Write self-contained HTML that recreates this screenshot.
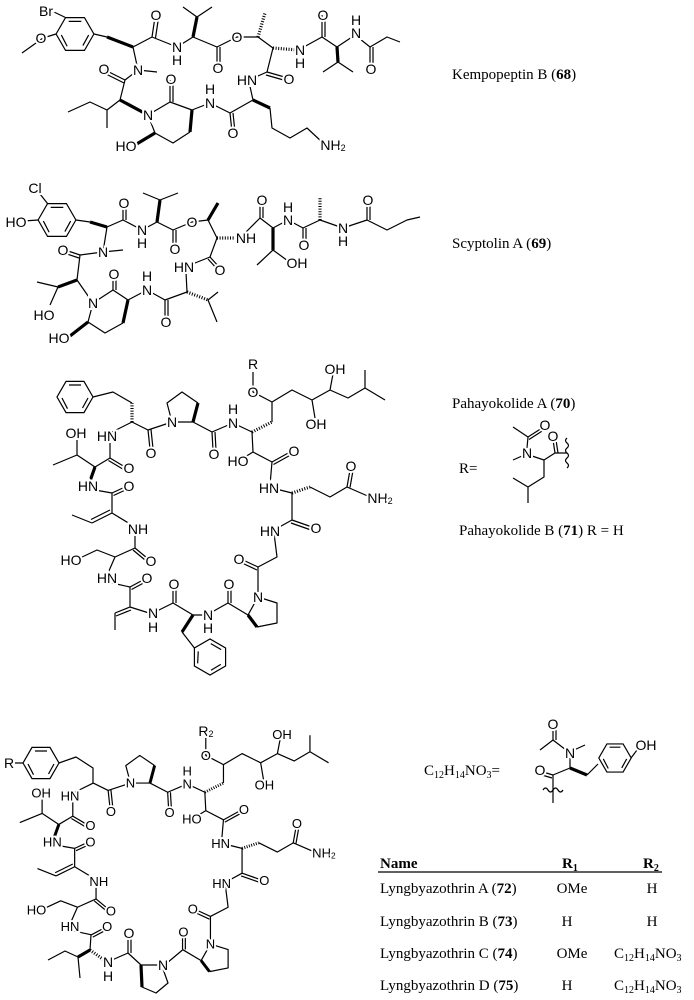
<!DOCTYPE html>
<html><head><meta charset="utf-8"><style>
html,body{margin:0;padding:0;background:#fff}
svg{display:block}
.b{stroke:#000;stroke-width:1.2;fill:none;stroke-linejoin:round}
.w{stroke:#000;stroke-width:3.2;fill:none}
.h{stroke:#000;stroke-width:3.2;fill:none;stroke-dasharray:1 1.6}
text.a{font-family:"Liberation Sans",sans-serif;font-size:14px;text-anchor:middle;dominant-baseline:central;stroke:#fff;stroke-width:4;paint-order:stroke;fill:#000}
text.t{font-family:"Liberation Serif",serif;font-size:15px;fill:#000}
</style></head><body>
<svg width="694" height="1000" viewBox="0 0 694 1000" xmlns="http://www.w3.org/2000/svg">
<defs>
<g id="bz"><polygon points="18,0 9,15.6 -9,15.6 -18,0 -9,-15.6 9,-15.6" style="stroke:#000;stroke-width:1.2;fill:none" vector-effect="non-scaling-stroke"/>
<path d="M13,1 L7.5,11 M-7.5,11.7 L-13,1 M-6,-12 L6,-12" style="stroke:#000;stroke-width:1.2;fill:none" vector-effect="non-scaling-stroke"/></g>
</defs>

<!-- ===== Kempopeptin B ===== -->
<g>
<use href="#bz" transform="translate(75,34) scale(1.05)"/>
<path class="b" d="M56,34 L43,38 L22,53 M65.5,17.5 L54,12 M94,34 L107,37"/>
<line class="w" x1="107" y1="37" x2="133" y2="47"/>
<path class="b" d="M133,47 L152,37 L177,47 L193,37 L217,47 L237,37 L258,37 L273,48 L267,72 L249,80"/>
<line class="h" x1="258" y1="37" x2="265" y2="13"/>
<line class="h" x1="273" y1="48" x2="298" y2="50"/>
<path class="b" d="M302,48 L322,37 L337,47 L355,35 L370,47 L387,37 L400,42"/>
<line class="w" x1="337" y1="47" x2="338" y2="62"/>
<path class="b" d="M323,72 L338,62 L353,72 M183,7 L197,17 L212,7"/>
<line class="w" x1="193" y1="37" x2="197" y2="17"/>
<path class="b" d="M133,47 L138,70 L157,72 M138,70 L125,80 L120,100 M148,115 L170,102 L192,110 M190,132 L173,143 L155,133 L148,115 M120,100 L107,110 L90,102 L68,112 M107,110 L107,128 M192,110 L210,103 L230,113 L253,100 L249,82 M270,108 L272,128 L290,138 L307,128 L322,142"/>
<line class="w" x1="120" y1="100" x2="148" y2="115"/>
<line class="w" x1="192" y1="110" x2="190" y2="132"/>
<line class="w" x1="155" y1="133" x2="135" y2="145"/>
<line class="w" x1="253" y1="100" x2="270" y2="108"/>
<path class="b" d="M152,37 L155,17 M155.5,38 L158.5,18 M217,47 L217,67 M220,47 L220,67 M267,72 L288,78 M266,75 L287,81 M322,37 L322,15 M325,37 L325,15 M370,47 L370,68 M373,47 L373,68 M125,80 L105,70 M124,83 L104,73 M170,102 L170,80 M173,102 L173,80 M230,113 L232,132 M233,113 L235,132"/>
<text class="a" x="46" y="11">Br</text><text class="a" x="41" y="38">O</text>
<text class="a" x="156" y="15">O</text><text class="a" x="177" y="47">N</text><text class="a" x="177" y="60">H</text>
<text class="a" x="218" y="68">O</text><text class="a" x="237" y="37">O</text>
<text class="a" x="300" y="50">N</text><text class="a" x="300" y="63">H</text>
<text class="a" x="289" y="79">O</text><text class="a" x="247" y="80">HN</text>
<text class="a" x="323" y="15">O</text><text class="a" x="356" y="33">N</text><text class="a" x="356" y="20">H</text>
<text class="a" x="371" y="69">O</text>
<text class="a" x="138" y="70">N</text><text class="a" x="104" y="69">O</text>
<text class="a" x="148" y="115">N</text><text class="a" x="171" y="79">O</text>
<text class="a" x="126" y="146">HO</text>
<text class="a" x="210" y="103">N</text><text class="a" x="210" y="89">H</text>
<text class="a" x="233" y="133">O</text>
<text class="a" x="333" y="145">NH<tspan font-size="9" dy="3">2</tspan></text>
</g>
<text class="t" x="452" y="79">Kempopeptin B (<tspan font-weight="bold">68</tspan>)</text>

<!-- ===== Scyptolin A ===== -->
<g>
<use href="#bz" transform="translate(57,220) scale(1.05)"/>
<path class="b" d="M38,220 L24,221 M47.5,203.5 L40,194 M76,220 L90,222"/>
<line class="w" x1="90" y1="222" x2="107" y2="227"/>
<path class="b" d="M107,227 L123,220 L142,230 L157,222 L173,230 L192,222 L208,220 L217,238"/>
<line class="w" x1="208" y1="220" x2="218" y2="203"/>
<line class="h" x1="217" y1="238" x2="236" y2="238"/>
<path class="b" d="M246,232 L260,218 L273,228 L288,220 L303,228 L320,220 L343,228 L367,220 L387,230 L407,220 L420,217"/>
<line class="h" x1="320" y1="220" x2="320" y2="197"/>
<line class="w" x1="273" y1="228" x2="273" y2="250"/>
<path class="b" d="M257,265 L273,250 L288,261"/>
<line class="w" x1="157" y1="222" x2="160" y2="200"/>
<path class="b" d="M143,193 L160,200 L178,193 M217,238 L210,257 L190,265 M186,272 L187,292"/>
<line class="h" x1="187" y1="292" x2="208" y2="300"/>
<path class="b" d="M218,292 L208,300 L217,322 M187,292 L165,300 L147,290 L128,300 L113,290 L93,303 L88,322 L105,333 L123,323"/>
<line class="w" x1="128" y1="300" x2="123" y2="323"/>
<line class="w" x1="88" y1="322" x2="70" y2="336"/>
<path class="b" d="M107,227 L103,252 L123,250 M103,252 L80,255 L77,280 L93,303"/>
<line class="w" x1="77" y1="280" x2="58" y2="287"/>
<path class="b" d="M37,282 L58,287 L50,305"/>
<path class="b" d="M260,218 L260,202 M263,218 L263,202 M303,228 L303,243 M306,228 L306,243 M367,220 L367,202 M370,220 L370,202 M123,220 L123,205 M126,220 L126,205 M173,230 L173,247 M176,230 L176,247 M210,257 L220,268 M208,259 L218,270 M165,300 L165,320 M168,300 L168,320 M113,290 L113,276 M116,290 L116,276 M80,255 L65,250 M79,258 L64,253"/>
<text class="a" x="35" y="188">Cl</text><text class="a" x="16" y="222">HO</text>
<text class="a" x="124" y="203">O</text><text class="a" x="142" y="230">N</text><text class="a" x="142" y="243">H</text>
<text class="a" x="175" y="249">O</text><text class="a" x="192" y="222">O</text>
<text class="a" x="246" y="238">NH</text><text class="a" x="262" y="200">O</text>
<text class="a" x="297" y="263">OH</text><text class="a" x="288" y="220">N</text><text class="a" x="288" y="207">H</text>
<text class="a" x="304" y="245">O</text><text class="a" x="343" y="228">N</text><text class="a" x="343" y="241">H</text>
<text class="a" x="368" y="200">O</text>
<text class="a" x="220" y="270">O</text><text class="a" x="184" y="267">HN</text>
<text class="a" x="166" y="322">O</text><text class="a" x="147" y="290">N</text><text class="a" x="147" y="276">H</text>
<text class="a" x="114" y="274">O</text><text class="a" x="93" y="303">N</text>
<text class="a" x="59" y="338">HO</text>
<text class="a" x="103" y="252">N</text><text class="a" x="63" y="250">O</text>
<text class="a" x="44" y="315">HO</text>
</g>
<text class="t" x="452" y="248">Scyptolin A (<tspan font-weight="bold">69</tspan>)</text>

<!-- ===== Pahayokolide common core ===== -->
<defs>
<g id="pc">
<path class="b" vector-effect="non-scaling-stroke" d="M132,422 L148,430 L172,422 L167,403 L182,392 L198,403 M172,422 L193,422 L212,432 L233,423 L252,432"/>
<line class="w" x1="193" y1="422" x2="198" y2="403"/>
<line class="h" x1="252" y1="432" x2="272" y2="422"/>
<path class="b" vector-effect="non-scaling-stroke" d="M272,422 L272,402 L253,392 L253,372 M272,402 L292,390 L312,400 L315,418 M312,400 L330,390 L333,374 M330,390 L348,398 L365,388 L365,370 M365,388 L385,400 M252,432 L253,452 L240,460 M253,452 L272,462 L270,485 M272,488 L292,493"/>
<line class="h" x1="292" y1="493" x2="310" y2="487"/>
<path class="b" vector-effect="non-scaling-stroke" d="M310,487 L330,497 L347,487 L370,497 M292,493 L292,520 L274,530 M274,533 L277,557 L258,567 L258,592 M258,597 L277,603 L277,623 L257,627 M258,597 L248,615 L228,603"/>
<line class="w" x1="248" y1="615" x2="257" y2="627"/>
<path class="b" vector-effect="non-scaling-stroke" d="M132,422 L112,432 M110,440 L110,458 L95,467 L77,455 L53,465 M77,455 L77,440"/>
<line class="w" x1="95" y1="467" x2="90" y2="481"/>
<path class="b" vector-effect="non-scaling-stroke" d="M95,490 L112,493 L112,513 L135,527 M92,523 L72,515 M135,533 L135,548 L115,557 L97,550 L80,558 M115,557 L108,573 M112,583 L130,587"/>
<path class="b" vector-effect="non-scaling-stroke" d="M148,430 L150,449 M151,429.5 L153,448.5 M212,432 L213,450 M215,432 L216,450 M272,462 L290,452 M273.5,464.5 L291.5,454.5 M347,487 L350,470 M350,487.5 L353,470.5 M292,520 L312,527 M291,523 L311,530 M258,567 L243,560 M257,570 L242,563 M228,603 L228,587 M231,603 L231,587 M110,458 L125,467 M108.5,460.5 L123.5,469.5 M112,493 L125,487 M113.5,495.5 L126.5,489.5 M112,513 L92,523 M110,510 L91,519.5 M135,548 L147,558 M133,550 L145,560 M130,587 L143,580 M131.5,589.5 L144.5,582.5"/>
<text class="a" x="172" y="422">N</text><text class="a" x="151" y="453">O</text><text class="a" x="214" y="454">O</text>
<text class="a" x="233" y="423">N</text><text class="a" x="233" y="409">H</text>
<text class="a" x="253" y="392">O</text><text class="a" x="316" y="424">OH</text><text class="a" x="335" y="369">OH</text>
<text class="a" x="238" y="461">HO</text><text class="a" x="294" y="451">O</text><text class="a" x="269" y="488">HN</text>
<text class="a" x="351" y="466">O</text><text class="a" x="380" y="498">NH<tspan font-size="9" dy="3">2</tspan></text>
<text class="a" x="316" y="528">O</text><text class="a" x="270" y="531">HN</text>
<text class="a" x="239" y="559">O</text><text class="a" x="258" y="597">N</text><text class="a" x="229" y="584">O</text>
<text class="a" x="107" y="436">HN</text><text class="a" x="76" y="433">OH</text><text class="a" x="129" y="468">O</text>
<text class="a" x="88" y="486">HN</text><text class="a" x="129" y="486">O</text>
<text class="a" x="138" y="529">NH</text><text class="a" x="151" y="561">O</text><text class="a" x="71" y="560">HO</text>
<text class="a" x="107" y="578">HN</text><text class="a" x="147" y="578">O</text>
</g>
</defs>

<!-- Pahayokolide -->
<use href="#pc"/>
<g>
<text class="a" x="253" y="364">R</text>
<line class="h" x1="132" y1="422" x2="132" y2="403"/>
<path class="b" d="M132,403 L113,392 L93,397"/>
<use href="#bz" transform="translate(75,397)"/>
<path class="b" d="M130,587 L130,607 L149,613 M115,613 L115,630 M157,611 L173,603 L193,615 L204,615 M212,612 L228,603 M182,632 L194.4,648"/>
<path class="b" d="M130,607 L115,613 M131,610 L116,616 M173,603 L173,587 M176,603 L176,587"/>
<line class="w" x1="193" y1="615" x2="182" y2="632"/>
<use href="#bz" transform="translate(210,657) rotate(30)"/>
<text class="a" x="153" y="613">N</text><text class="a" x="153" y="627">H</text>
<text class="a" x="174" y="584">O</text>
<text class="a" x="208" y="615">N</text><text class="a" x="208" y="628">H</text>
</g>
<text class="t" x="452" y="408">Pahayokolide A (<tspan font-weight="bold">70</tspan>)</text>
<text class="t" x="459" y="473">R=</text>
<g>
<path class="b" d="M513,427 L528,437 L527,448 M528,437 L542,428 M529,439.5 L543,430.5 M513,460 L522,456 M532,456 L544,460 L555,453 L567,453 M555,453 L553,440 M558,453 L556,440 M544,460 L544,477 L528,487 L513,478 M528,487 L528,503"/>
<path class="b" d="M567,438 q-3,2.5 0,5 t0,5 t0,5 t0,5 t0,5 t0,5"/>
<text class="a" x="545" y="425">O</text><text class="a" x="527" y="453">N</text><text class="a" x="553" y="436">O</text>
</g>
<text class="t" x="459" y="535">Pahayokolide B (<tspan font-weight="bold">71</tspan>) R = H</text>

<!-- ===== Lyngbyazothrin ===== -->
<use href="#pc" transform="matrix(0.93,0,0,0.92,-29.5,394.8)"/>
<g>
<text class="a" x="206" y="731">R<tspan font-size="9" dy="3">2</tspan></text>
<path class="b" d="M93,783 L93,768 L76,757 L59,763 M23,763 L15,763"/>
<use href="#bz" transform="translate(41,763)"/>
<text class="a" x="9" y="763">R</text>
<path class="b" d="M91,935 L90,950 M78,957 L65,951 L48,960 M78,957 L80,978 M112,960 L128,953 L141,965 L160,965 M141,965 L142,987 L156,993 L168,983 L163,969 M167,963 L182.5,950"/>
<line class="w" x1="90" y1="950" x2="78" y2="957"/>
<line class="h" x1="90" y1="950" x2="104" y2="960"/>
<line class="w" x1="141" y1="965" x2="142" y2="987"/>
<path class="b" d="M128,953 L128,937 M131,953 L131,937"/>
<text class="a" x="108" y="962">N</text><text class="a" x="108" y="976">H</text>
<text class="a" x="129" y="933">O</text><text class="a" x="163" y="965">N</text>
</g>

<!-- C12H14NO3 fragment -->
<text class="t" x="424" y="775">C<tspan font-size="10" dy="3">12</tspan><tspan dy="-3">H</tspan><tspan font-size="10" dy="3">14</tspan><tspan dy="-3">NO</tspan><tspan font-size="10" dy="3">3</tspan><tspan dy="-3">=</tspan></text>
<g>
<path class="b" d="M540,750 L553,740 L566,750 M574,750 L585,745 M553,740 L553,728 M556,740 L556,728 M570,758 L570,768 L553,775 L553,803 M553,775 L543,772 M552,778 L542,775 M587,775 L598,764 M631,758 L637,750"/>
<path class="b" d="M543,790 q2.5,-4 5,0 t5,0 t5,0 t5,0"/>
<line class="w" x1="570" y1="768" x2="587" y2="775"/>
<use href="#bz" transform="translate(615,758) scale(0.9)"/>
<text class="a" x="553" y="724">O</text><text class="a" x="570" y="753">N</text><text class="a" x="540" y="770">O</text>
<text class="a" x="646" y="745">OH</text>
</g>

<!-- Table -->
<g>
<text class="t" x="380" y="868" font-weight="bold">Name</text>
<text class="t" x="562" y="868" font-weight="bold">R<tspan font-size="10" dy="3">1</tspan></text>
<text class="t" x="643" y="868" font-weight="bold">R<tspan font-size="10" dy="3">2</tspan></text>
<line x1="378" y1="872" x2="662" y2="872" stroke="#000" stroke-width="1.3"/>
<text class="t" x="380" y="893">Lyngbyazothrin A (<tspan font-weight="bold">72</tspan>)</text>
<text class="t" x="572" y="893" text-anchor="middle">OMe</text><text class="t" x="652" y="893" text-anchor="middle">H</text>
<text class="t" x="380" y="926">Lyngbyazothrin B (<tspan font-weight="bold">73</tspan>)</text>
<text class="t" x="567" y="926" text-anchor="middle">H</text><text class="t" x="652" y="926" text-anchor="middle">H</text>
<text class="t" x="380" y="958">Lyngbyazothrin C (<tspan font-weight="bold">74</tspan>)</text>
<text class="t" x="572" y="958" text-anchor="middle">OMe</text>
<text class="t" x="614" y="958">C<tspan font-size="10" dy="3">12</tspan><tspan dy="-3">H</tspan><tspan font-size="10" dy="3">14</tspan><tspan dy="-3">NO</tspan><tspan font-size="10" dy="3">3</tspan></text>
<text class="t" x="380" y="990">Lyngbyazothrin D (<tspan font-weight="bold">75</tspan>)</text>
<text class="t" x="567" y="990" text-anchor="middle">H</text>
<text class="t" x="614" y="990">C<tspan font-size="10" dy="3">12</tspan><tspan dy="-3">H</tspan><tspan font-size="10" dy="3">14</tspan><tspan dy="-3">NO</tspan><tspan font-size="10" dy="3">3</tspan></text>
</g>
</svg>
</body></html>
